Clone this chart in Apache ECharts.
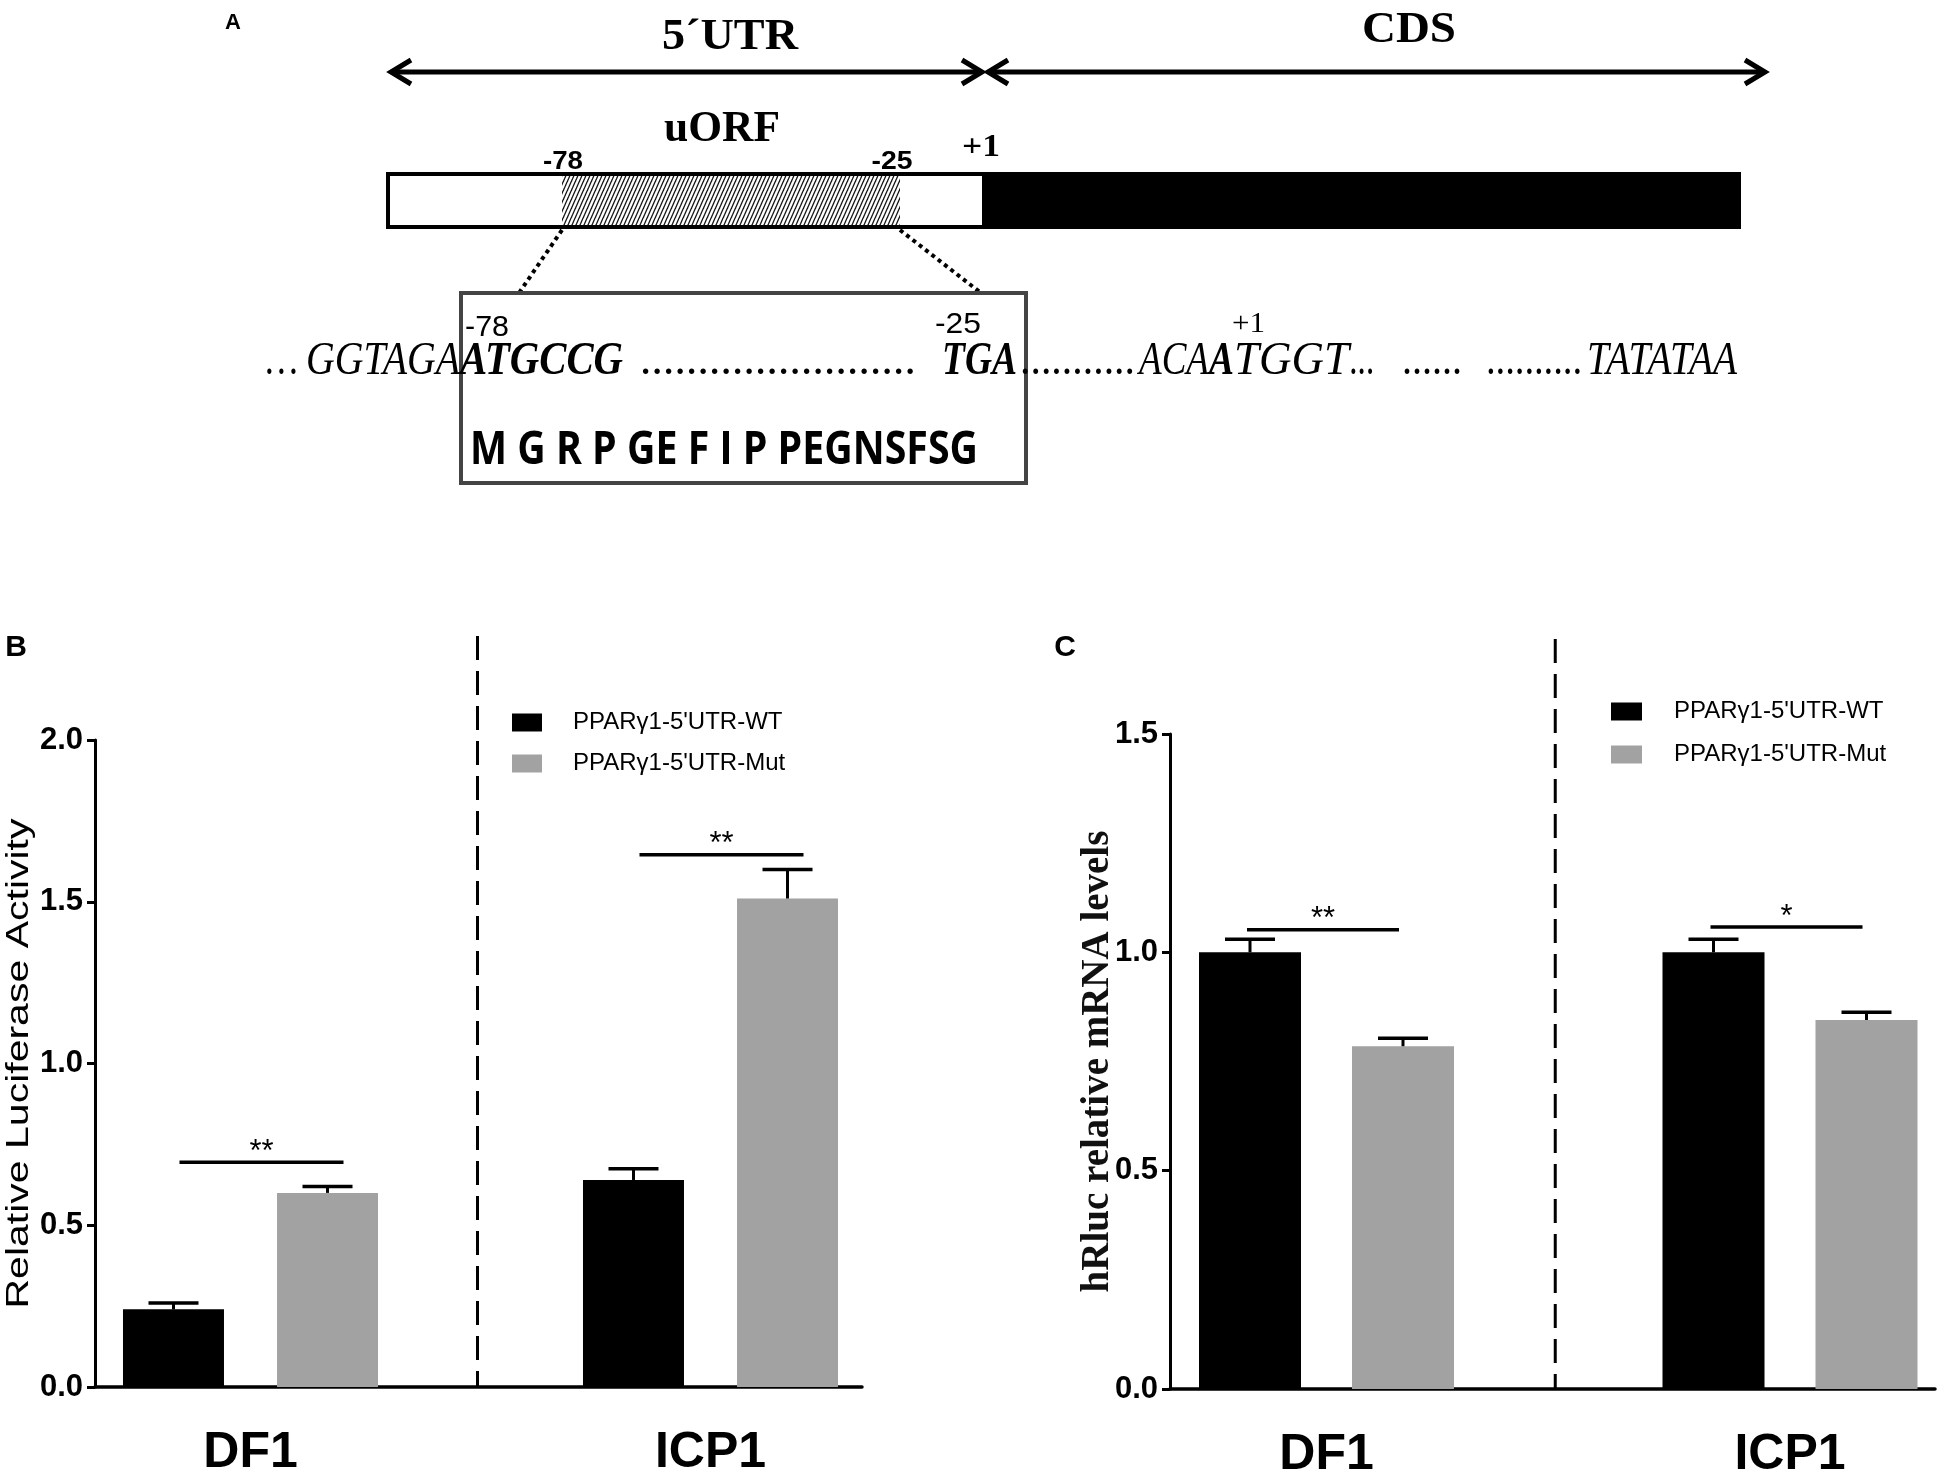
<!DOCTYPE html>
<html>
<head>
<meta charset="utf-8">
<script src="https://cdn.jsdelivr.net/npm/echarts@6.0.0/dist/echarts.min.js"></script>
<style>
html,body{margin:0;padding:0;background:#fff}
#main{width:1950px;height:1478px}
</style>
</head>
<body>
<div id="main"></div>
<script>
// ---- data ----
var categories = ['DF1', 'ICP1'];
var groupNames = ["PPARγ1-5'UTR-WT", "PPARγ1-5'UTR-Mut"];

// panel B: relative luciferase activity
var bWT = [0.24, 0.64];
var bWTErr = [0.02, 0.035];
var bMut = [0.60, 1.51];
var bMutErr = [0.02, 0.09];
var bSig = [0.695, 1.645];
var bSigMark = ['**', '**'];
var bTitle = 'Relative Luciferase Activity';

// panel C: hRluc relative mRNA levels
var cWT = [1.00, 1.00];
var cWTErr = [0.03, 0.03];
var cMut = [0.785, 0.845];
var cMutErr = [0.018, 0.018];
var cSig = [1.052, 1.058];
var cSigMark = ['**', '*'];
var cTitle = 'hRluc relative mRNA levels';

// panel A: gene schematic texts
var regionLabels = ['5´UTR', 'CDS'];
var uorfLabel = 'uORF';
var siteLabels = ['-78', '-25', '+1'];
var seqPieces = ['…', 'GGTAGA', 'ATGCCG', '........................', 'TGA', '...........',
  'ACA', 'A', 'TGGT', '...', '......', '..........', 'TATATAA'];
var peptide = 'M G R P GE F I P PEGNSFSG';

// ---- fonts / helpers ----
var SANS = '"Liberation Sans", Arial, sans-serif';
var SERIF = '"Liberation Serif", "Times New Roman", serif';
var GREY = '#a2a2a2';

var mctx = document.createElement('canvas').getContext('2d');
function measure(str, font) {
	mctx.font = font;
	return mctx.measureText(str).width;
}

var g = [];
function txt(str, font, x, y, w, align, rot) {
	var sx = 1;
	if (w) {
		var m = measure(str, font);
		if (m > 0) sx = w / m;
	}
	g.push({
		type: 'text', x: x, y: y, scaleX: sx, rotation: rot || 0, silent: true,
		style: {text: str, font: font, fill: '#000', align: align || 'left', textAlign: align || 'left',
			verticalAlign: 'middle', textVerticalAlign: 'middle'}
	});
}
function line(x1, y1, x2, y2, w, dash, color) {
	g.push({type: 'line', silent: true, shape: {x1: x1, y1: y1, x2: x2, y2: y2},
		style: {stroke: color || '#000', lineWidth: w, lineDash: dash || null}});
}
function chevron(x, y, dir) {
	g.push({type: 'polyline', silent: true,
		shape: {points: [[x - dir * 20, y - 12], [x, y], [x - dir * 20, y + 12]]},
		style: {stroke: '#000', lineWidth: 5, fill: null, lineJoin: 'miter'}});
}

// hatch pattern for uORF
var pc = document.createElement('canvas');
pc.width = 4; pc.height = 9;
var pctx = pc.getContext('2d');
pctx.fillStyle = '#fff';
pctx.fillRect(0, 0, 4, 9);
pctx.strokeStyle = '#111';
pctx.lineWidth = 1.3;
[-4, 0, 4].forEach(function(o){
	pctx.beginPath();
	pctx.moveTo(-1 + o, 11.25);
	pctx.lineTo(5 + o, -2.25);
	pctx.stroke();
});

// ---- panel A ----
txt('A', 'bold 22px ' + SANS, 233, 23, 0, 'center');
txt(regionLabels[0], 'bold 44px ' + SERIF, 730, 38, 136, 'center');
txt(regionLabels[1], 'bold 44px ' + SERIF, 1409, 31, 94, 'center');
line(393, 72, 980, 72, 5);
line(990, 72, 1763, 72, 5);
chevron(391, 72, -1);
chevron(982, 72, 1);
chevron(988, 72, -1);
chevron(1765, 72, 1);

txt(uorfLabel, 'bold 44px ' + SERIF, 722, 130, 116, 'center');
txt(siteLabels[0], 'bold 26px ' + SANS, 563, 162, 40, 'center');
txt(siteLabels[1], 'bold 26px ' + SANS, 892, 162, 41, 'center');
txt(siteLabels[2], 'bold 32px ' + SERIF, 981, 148, 38, 'center');

g.push({type: 'rect', silent: true, shape: {x: 388, y: 174, width: 174, height: 53}, style: {fill: '#fff'}});
g.push({type: 'rect', silent: true, shape: {x: 562, y: 174, width: 338, height: 53}, style: {fill: {image: pc, repeat: 'repeat'}}});
g.push({type: 'rect', silent: true, shape: {x: 900, y: 174, width: 82, height: 53}, style: {fill: '#fff'}});
g.push({type: 'rect', silent: true, shape: {x: 982, y: 174, width: 757, height: 53}, style: {fill: '#000'}});
g.push({type: 'rect', silent: true, shape: {x: 388, y: 174, width: 1351, height: 53}, style: {fill: null, stroke: '#000', lineWidth: 4}});

line(562, 230, 519, 293, 4, [4, 4]);
line(900, 230, 981, 293, 4, [4, 4]);
g.push({type: 'rect', silent: true, shape: {x: 461, y: 293, width: 565, height: 190}, style: {fill: null, stroke: '#444', lineWidth: 4}});

txt(siteLabels[0], '30px ' + SANS, 465, 328, 44);
txt(siteLabels[1], '30px ' + SANS, 935, 325, 46);
txt(siteLabels[2], '30px ' + SERIF, 1232, 324, 33);

var IT = 'italic 46px ' + SERIF;
var BI = 'italic bold 46px ' + SERIF;
var seqLayout = [
	[266, 32, IT], [306, 154, IT], [460, 163, BI], [641, 276, IT], [942, 75, BI], [1021, 115, IT],
	[1139, 70, IT], [1209, 25, BI], [1234, 115, IT], [1350, 25, IT], [1403, 60, IT], [1487, 96, IT], [1587, 150, IT]
];
seqPieces.forEach(function(s, i){
	var L = seqLayout[i];
	txt(s, L[2], L[0], 362, L[1]);
});
txt(peptide, 'bold 47px "Open Sans", ' + SANS, 470, 451, 508);

// ---- panels B and C ----
var pB = {frame: {left: 95, top: 740, width: 767, height: 647}, bars: {left: 20.5, width: 920}, max: 2.0,
	barW: 101, gap: 0.525, sigA: 6, sigB: 16, dashTop: 636};
var pC = {frame: {left: 1170, top: 734, width: 765, height: 655}, bars: {left: 1094.75, width: 927}, max: 1.5,
	barW: 102, gap: 0.5, sigA: -3, sigB: -4, dashTop: 639};

[pB, pC].forEach(function(p){
	var x = p.bars.left + p.bars.width / 2 - 3;
	line(x, p.dashTop, x, p.frame.top + p.frame.height, 3, [24, 11]);
});
txt('B', 'bold 30px ' + SANS, 16, 648, 0, 'center');
txt('C', 'bold 30px ' + SANS, 1065, 648, 0, 'center');
// stretched y title of panel B, as in the figure
txt(bTitle, '31px ' + SANS, 19, pB.frame.top + pB.frame.height / 2, 490, 'center', Math.PI / 2);

function errSeries(ai, vals, errs, side, off) {
	return {
		type: 'custom', xAxisIndex: ai, yAxisIndex: ai, z: 5, silent: true,
		data: vals.map(function(v, i){ return [i, v, errs[i]]; }),
		renderItem: function(params, api){
			var base = api.coord([api.value(0), api.value(1)]);
			var top = api.coord([api.value(0), api.value(1) + api.value(2)]);
			var cx = base[0] + side * off;
			return {type: 'group', children: [
				{type: 'line', shape: {x1: cx, y1: base[1], x2: cx, y2: top[1]}, style: {stroke: '#000', lineWidth: 3}},
				{type: 'line', shape: {x1: cx - 25, y1: top[1], x2: cx + 25, y2: top[1]}, style: {stroke: '#000', lineWidth: 3.5}}
			]};
		}
	};
}
function sigSeries(ai, levels, marks, off, a, b) {
	return {
		type: 'custom', xAxisIndex: ai, yAxisIndex: ai, z: 5, silent: true,
		data: levels.map(function(v, i){ return [i, v]; }),
		renderItem: function(params, api){
			var c = api.coord([api.value(0), api.value(1)]);
			var x1 = c[0] - off + a, x2 = c[0] + off + b;
			return {type: 'group', children: [
				{type: 'line', shape: {x1: x1, y1: c[1], x2: x2, y2: c[1]}, style: {stroke: '#000', lineWidth: 3.5}},
				{type: 'text', x: (x1 + x2) / 2, y: c[1] - 10,
					style: {text: marks[params.dataIndex], font: '31px ' + SANS, fill: '#000',
						align: 'center', textAlign: 'center', verticalAlign: 'middle', textVerticalAlign: 'middle'}}
			]};
		}
	};
}

function frameY(p) {
	return {
		type: 'value', min: 0, max: p.max, interval: 0.5,
		axisLine: {show: true, lineStyle: {color: '#000', width: 3}},
		axisTick: {show: true, length: 8, lineStyle: {color: '#000', width: 3}},
		axisLabel: {margin: 12, color: '#000', fontSize: 31, fontWeight: 'bold', fontFamily: SANS,
			formatter: function(v){ return v.toFixed(1); }},
		splitLine: {show: false}
	};
}
function frameX() {
	return {type: 'value', min: 0, max: 1,
		axisLine: {show: true, onZero: true, lineStyle: {color: '#000', width: 3.5}},
		axisTick: {show: false}, axisLabel: {show: false}, splitLine: {show: false}};
}
function barX() {
	return {type: 'category', data: categories,
		axisLine: {show: false}, axisTick: {show: false}, splitLine: {show: false},
		axisLabel: {margin: 40, color: '#000', fontSize: 50, lineHeight: 52, fontWeight: 'bold', fontFamily: SANS}};
}
function hiddenY(p) {
	return {type: 'value', min: 0, max: p.max, show: false};
}

var xB = frameX(); xB.gridIndex = 0;
var xBb = barX(); xBb.gridIndex = 1;
var xC = frameX(); xC.gridIndex = 2;
var xCb = barX(); xCb.gridIndex = 3;

var yB = frameY(pB); yB.gridIndex = 0;
var yBb = hiddenY(pB); yBb.gridIndex = 1;
var yC = frameY(pC); yC.gridIndex = 2;
yC.name = cTitle;
yC.nameLocation = 'middle';
yC.nameRotate = 90;
yC.nameGap = 53;
yC.nameMoveOverlap = false;
yC.nameTextStyle = {fontSize: 39, fontWeight: 'bold', fontFamily: SERIF, color: '#111'};
var yCb = hiddenY(pC); yCb.gridIndex = 3;

function offOf(p) { return (p.barW + p.barW * p.gap) / 2; }

var option = {
	backgroundColor: '#fff',
	animation: false,
	grid: [
		{left: pB.frame.left, top: pB.frame.top, width: pB.frame.width, height: pB.frame.height, outerBoundsMode: 'none'},
		{left: pB.bars.left, top: pB.frame.top, width: pB.bars.width, height: pB.frame.height, outerBoundsMode: 'none'},
		{left: pC.frame.left, top: pC.frame.top, width: pC.frame.width, height: pC.frame.height, outerBoundsMode: 'none'},
		{left: pC.bars.left, top: pC.frame.top, width: pC.bars.width, height: pC.frame.height, outerBoundsMode: 'none'}
	],
	xAxis: [xB, xBb, xC, xCb],
	yAxis: [yB, yBb, yC, yCb],
	legend: [
		{data: groupNames, orient: 'vertical', left: 507, top: 705, itemWidth: 30, itemHeight: 18, itemGap: 16,
			icon: 'rect', selectedMode: false,
			textStyle: {fontSize: 24, lineHeight: 25, fontFamily: SANS, color: '#000', padding: [0, 0, 0, 26]}},
		{data: groupNames, orient: 'vertical', left: 1606, top: 694, itemWidth: 31, itemHeight: 18, itemGap: 18,
			icon: 'rect', selectedMode: false,
			textStyle: {fontSize: 24, lineHeight: 25, fontFamily: SANS, color: '#000', padding: [0, 0, 0, 27]}}
	],
	series: [
		{name: groupNames[0], type: 'bar', xAxisIndex: 1, yAxisIndex: 1, data: bWT, barWidth: pB.barW, barGap: (pB.gap * 100) + '%', itemStyle: {color: '#000'}},
		{name: groupNames[1], type: 'bar', xAxisIndex: 1, yAxisIndex: 1, data: bMut, barWidth: pB.barW, barGap: (pB.gap * 100) + '%', itemStyle: {color: GREY}},
		errSeries(1, bWT, bWTErr, -1, offOf(pB)),
		errSeries(1, bMut, bMutErr, 1, offOf(pB)),
		sigSeries(1, bSig, bSigMark, offOf(pB), pB.sigA, pB.sigB),
		{name: groupNames[0], type: 'bar', xAxisIndex: 3, yAxisIndex: 3, data: cWT, barWidth: pC.barW, barGap: (pC.gap * 100) + '%', itemStyle: {color: '#000'}},
		{name: groupNames[1], type: 'bar', xAxisIndex: 3, yAxisIndex: 3, data: cMut, barWidth: pC.barW, barGap: (pC.gap * 100) + '%', itemStyle: {color: GREY}},
		errSeries(3, cWT, cWTErr, -1, offOf(pC)),
		errSeries(3, cMut, cMutErr, 1, offOf(pC)),
		sigSeries(3, cSig, cSigMark, offOf(pC), pC.sigA, pC.sigB)
	],
	graphic: {elements: g}
};

var chart = echarts.init(document.getElementById('main'));
chart.setOption(option);
</script>
</body>
</html>
